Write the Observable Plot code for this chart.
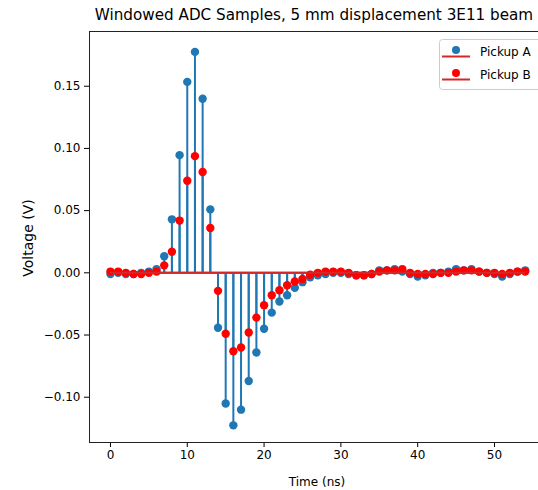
<!DOCTYPE html>
<html>
<head>
<meta charset="utf-8">
<script src="https://cdn.jsdelivr.net/npm/d3@7"></script>
<script src="https://cdn.jsdelivr.net/npm/@observablehq/plot@0.6"></script>
<style>
  html, body { margin: 0; padding: 0; background: white; }
  #wrap { position: relative; width: 538px; height: 490px; overflow: hidden; font-family: "DejaVu Sans", sans-serif; color: #000; }
  #title { position: absolute; top: 8px; left: 314px; transform: translateX(-50%); white-space: nowrap; font-size: 15.2px; line-height: 1; }
  #chart { position: absolute; top: 26px; left: 0; }
  #xlabel { position: absolute; left: 317px; top: 482px; transform: translate(-50%, -50%); white-space: nowrap; font-size: 12px; line-height: 1; }
  #ylabel { position: absolute; left: 28px; top: 238px; transform: translate(-50%, -50%) rotate(-90deg); white-space: nowrap; font-size: 14px; line-height: 1; }
</style>
</head>
<body>
<div id="wrap">
  <div id="title">Windowed ADC Samples, 5 mm displacement 3E11 beam</div>
  <div id="chart"></div>
  <div id="xlabel">Time (ns)</div>
  <div id="ylabel">Voltage (V)</div>
</div>
<script>
// ---- data ----
const timeNs = [0,1,2,3,4,5,6,7,8,9,10,11,12,13,14,15,16,17,18,19,20,21,22,23,24,25,26,27,28,29,30,31,32,33,34,35,36,37,38,39,40,41,42,43,44,45,46,47,48,49,50,51,52,53,54];
const pickupA = [-0.001,0.000,-0.001,-0.001,0.000,0.001,0.003,
  0.0134,0.043,0.0946,0.1535,0.1776,0.140,0.051,
  -0.0442,-0.105,-0.1226,-0.110,-0.087,-0.064,-0.045,-0.032,-0.023,-0.018,-0.012,-0.0075,
  -0.0035,-0.002,-0.001,0.000,0.000,-0.001,-0.002,-0.002,-0.001,0.002,0.002,0.003,0.001,-0.001,-0.003,-0.002,0.000,0.000,0.001,0.003,0.002,0.003,0.001,0.000,-0.001,-0.003,-0.001,0.001,0.002];
const pickupB = [0.001,0.001,0.000,-0.001,-0.001,0.000,0.001,
  0.006,0.017,0.042,0.074,0.0938,0.081,0.036,
  -0.0145,-0.049,-0.063,-0.060,-0.048,-0.036,-0.026,-0.018,-0.014,-0.010,-0.007,-0.005,
  -0.0015,0.000,0.001,0.001,0.001,0.000,-0.002,-0.002,-0.001,0.001,0.002,0.002,0.003,0.000,-0.001,-0.001,-0.001,0.000,0.000,0.001,0.002,0.002,0.001,0.000,0.000,-0.001,0.000,0.001,0.001];
const seriesNames = ["Pickup A", "Pickup B"];
const xTicks = [0, 10, 20, 30, 40, 50];
const yTicks = [-0.10, -0.05, 0.00, 0.05, 0.10, 0.15];

// ---- build tables ----
const dataA = timeNs.map((t, i) => ({t, v: pickupA[i]}));
const dataB = timeNs.map((t, i) => ({t, v: pickupB[i]}));
const tMin = d3.min(timeNs), tMax = d3.max(timeNs);

const blue = "#1f77b4", red = "#ff0000", baseRed = "#d62728";
const xDomain = [-2.73, 55.73];
const yDomain = [-0.1364, 0.194];

const chart = Plot.plot({
  width: 538,
  height: 464,
  marginLeft: 89,
  marginRight: 0,
  marginTop: 5,
  marginBottom: 48,
  style: {fontFamily: "DejaVu Sans, sans-serif", fontSize: "12px", color: "#000", background: "transparent", overflow: "visible"},
  x: {domain: xDomain, ticks: xTicks, tickFormat: d3.format("d"), tickSize: 5, tickPadding: 3, label: null},
  y: {domain: yDomain, ticks: yTicks, tickFormat: d3.format(".2f"), tickSize: 5, tickPadding: 4, label: null},
  marks: [
    // series A
    Plot.ruleX(dataA, {x: "t", y1: 0, y2: "v", stroke: blue, strokeWidth: 2}),
    Plot.dot(dataA, {x: "t", y: "v", r: 4.2, fill: blue}),
    Plot.ruleY([0], {x1: tMin, x2: tMax, stroke: baseRed, strokeWidth: 2}),
    // series B
    Plot.ruleX(dataB, {x: "t", y1: 0, y2: "v", stroke: blue, strokeWidth: 2}),
    Plot.dot(dataB, {x: "t", y: "v", r: 4.2, fill: red}),
    Plot.ruleY([0], {x1: tMin, x2: tMax, stroke: baseRed, strokeWidth: 2}),
    // spines
    Plot.ruleX([xDomain[0]], {stroke: "#222", strokeWidth: 1}),
    Plot.ruleY([yDomain[0], yDomain[1]], {stroke: "#222", strokeWidth: 1})
  ]
});
document.getElementById("chart").appendChild(chart);

// ---- legend (inside plot, upper right) ----
const ns = "http://www.w3.org/2000/svg";
const leg = document.createElementNS(ns, "svg");
leg.setAttribute("width", 538);
leg.setAttribute("height", 100);
leg.style.position = "absolute"; leg.style.left = "0"; leg.style.top = "0";
const rect = document.createElementNS(ns, "rect");
rect.setAttribute("x", 439.5); rect.setAttribute("y", 39.5);
rect.setAttribute("width", 110); rect.setAttribute("height", 50);
rect.setAttribute("rx", 3);
rect.setAttribute("fill", "white"); rect.setAttribute("fill-opacity", 0.8);
rect.setAttribute("stroke", "#cccccc"); rect.setAttribute("stroke-width", 1);
leg.appendChild(rect);
const colors = [blue, red];
seriesNames.forEach((name, i) => {
  const yc = 50 + i * 23;
  const line = document.createElementNS(ns, "line");
  line.setAttribute("x1", 442); line.setAttribute("x2", 470);
  line.setAttribute("y1", yc + 6.5); line.setAttribute("y2", yc + 6.5);
  line.setAttribute("stroke", baseRed); line.setAttribute("stroke-width", 2);
  leg.appendChild(line);
  const c = document.createElementNS(ns, "circle");
  c.setAttribute("cx", 456); c.setAttribute("cy", yc);
  c.setAttribute("r", 4); c.setAttribute("fill", colors[i]);
  leg.appendChild(c);
  const tx = document.createElementNS(ns, "text");
  tx.setAttribute("x", 480); tx.setAttribute("y", yc + 2);
  tx.setAttribute("dominant-baseline", "middle");
  tx.setAttribute("font-family", "DejaVu Sans, sans-serif");
  tx.setAttribute("font-size", 12);
  tx.textContent = name;
  leg.appendChild(tx);
});
document.getElementById("wrap").appendChild(leg);
</script>
</body>
</html>
